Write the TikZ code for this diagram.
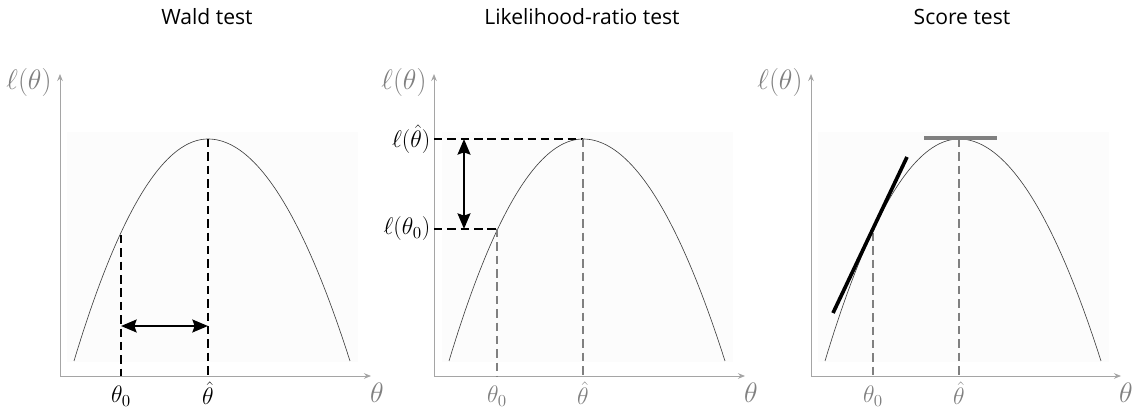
\documentclass[tikz,border=0pt]{standalone}
\usepackage{fix-cm}
\usepackage{fontspec}
\setmainfont{Open Sans}
\usepackage{amsmath}
\usetikzlibrary{arrows.meta}

\definecolor{axisgray}{RGB}{165,165,165}
\definecolor{labelgray}{RGB}{128,128,128}
\definecolor{boxgray}{RGB}{252,252,252}

\tikzset{
  axis/.style={draw=axisgray, line width=0.7pt, -{Stealth[length=5pt,width=4pt]}},
  curve/.style={draw=black!75, line width=0.45pt},
  guide/.style={line width=1.3pt, dash pattern=on 6pt off 3.5pt},
  twoway/.style={line width=2pt, {Stealth[length=11pt,width=9pt,inset=1.5pt]}-{Stealth[length=11pt,width=9pt,inset=1.5pt]}},
  title/.style={font=\fontsize{15}{18}\selectfont},
  axlabel/.style={text=labelgray, font=\fontsize{20}{24}\selectfont, inner sep=1pt},
  tick/.style={font=\fontsize{17}{20}\selectfont, inner sep=1pt}
}

\begin{document}
\begin{tikzpicture}[x=0.025cm, y=-0.025cm]
  \useasboundingbox (0,0) rectangle (1132,412);

  % --- Wald test ---
  \fill[boxgray] (67,132) rectangle (358,362);
  \node[title] (wtitle) at (207,17) {Wald test};
  \coordinate (wo) at (60,376);
  \coordinate (wy) at (60,74);
  \coordinate (wx) at (371,376);
  \draw[axis] (wo) -- (wy);
  \draw[axis] (wo) -- (wx);
  \node[axlabel] (wyl) at (29,82) {$\ell(\theta)$};
  \node[axlabel] (wxl) at (377,393) {$\theta$};
  \draw[curve] plot[domain=-134:0, samples=50] ({208+\x}, {139+222*(\x/134)*(\x/134)})
    -- plot[domain=0:142, samples=50] ({208+\x}, {139+222*(\x/142)*(\x/142)});
  \coordinate (wnull) at (121,235);
  \coordinate (wpeak) at (208,139);
  \coordinate (wnullb) at (121,376);
  \coordinate (wpeakb) at (208,376);
  \draw[guide] (wnull) -- (wnullb);
  \draw[guide] (wpeak) -- (wpeakb);
  \coordinate (wa) at (121,326);
  \coordinate (wb) at (208,326);
  \draw[twoway] (wa) -- (wb);
  \node[tick] (wt0) at (121,396) {$\theta_0$};
  \node[tick] (wth) at (208,393) {$\hat{\theta}$};

  % --- Likelihood-ratio test ---
  \fill[boxgray] (442,132) rectangle (733,362);
  \node[title] (ltitle) at (582,17) {Likelihood-ratio test};
  \coordinate (lo) at (434,376);
  \coordinate (ly) at (434,74);
  \coordinate (lx) at (745,376);
  \draw[axis] (lo) -- (ly);
  \draw[axis] (lo) -- (lx);
  \node[axlabel] (lyl) at (404,82) {$\ell(\theta)$};
  \node[axlabel] (lxl) at (751,393) {$\theta$};
  \draw[curve] plot[domain=-134:0, samples=50] ({583+\x}, {139+222*(\x/134)*(\x/134)})
    -- plot[domain=0:142, samples=50] ({583+\x}, {139+222*(\x/142)*(\x/142)});
  \coordinate (lnull) at (497,229);
  \coordinate (lpeak) at (583,139);
  \coordinate (lyhat) at (434,139);
  \coordinate (lynull) at (434,229);
  \draw[guide] (lyhat) -- (lpeak);
  \draw[guide] (lynull) -- (lnull);
  \draw[guide, draw=labelgray] (lnull) -- (lnull |- lo);
  \draw[guide, draw=labelgray] (lpeak) -- (lpeak |- lo);
  \coordinate (la) at (464,139);
  \coordinate (lb) at (464,229);
  \draw[twoway] (la) -- (lb);
  \node[tick, anchor=east] (llhat) at (432,139) {$\ell(\hat{\theta})$};
  \node[tick, anchor=east] (llnull) at (432,229) {$\ell(\theta_0)$};
  \node[tick, text=labelgray] (lt0) at (497,396) {$\theta_0$};
  \node[tick, text=labelgray] (lth) at (583,393) {$\hat{\theta}$};

  % --- Score test ---
  \fill[boxgray] (818,132) rectangle (1109,362);
  \node[title] (stitle) at (962,17) {Score test};
  \coordinate (so) at (811,376);
  \coordinate (sy) at (811,74);
  \coordinate (sx) at (1121,376);
  \draw[axis] (so) -- (sy);
  \draw[axis] (so) -- (sx);
  \node[axlabel] (syl) at (780,82) {$\ell(\theta)$};
  \node[axlabel] (sxl) at (1126,393) {$\theta$};
  \draw[curve] plot[domain=-134:0, samples=50] ({959+\x}, {139+222*(\x/134)*(\x/134)})
    -- plot[domain=0:142, samples=50] ({959+\x}, {139+222*(\x/142)*(\x/142)});
  \coordinate (snull) at (873,233);
  \coordinate (speak) at (959,139);
  \draw[guide, draw=labelgray] (snull) -- (snull |- so);
  \draw[guide, draw=labelgray] (speak) -- (speak |- so);
  \coordinate (sta) at (833,313);
  \coordinate (stb) at (907,157);
  \draw[line width=2.6pt] (sta) -- (stb);
  \coordinate (sha) at (924,138);
  \coordinate (shb) at (997,138);
  \draw[labelgray, line width=2.2pt] (sha) -- (shb);
  \node[tick, text=labelgray] (st0) at (873,396) {$\theta_0$};
  \node[tick, text=labelgray] (sth) at (959,393) {$\hat{\theta}$};

\end{tikzpicture}
\end{document}
